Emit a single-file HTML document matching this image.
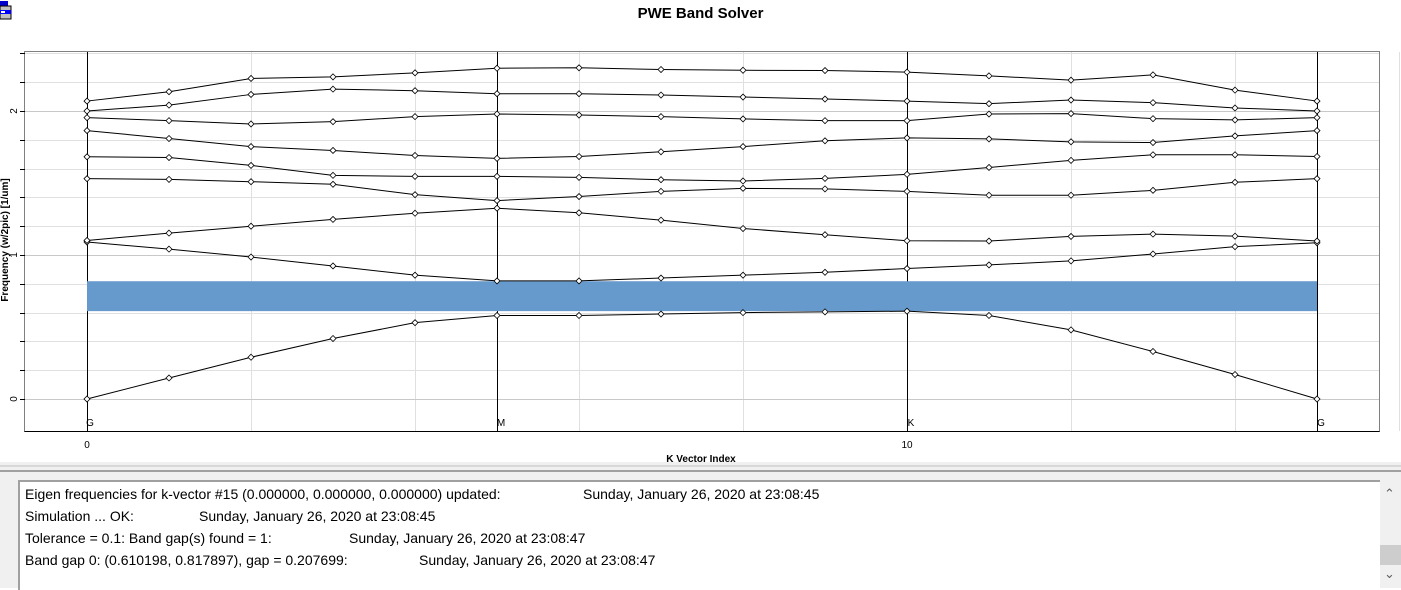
<!DOCTYPE html>
<html><head><meta charset="utf-8">
<style>
body{margin:0;width:1401px;height:588px;overflow:hidden;background:#fff;font-family:"Liberation Sans",sans-serif;position:relative}
#title{position:absolute;left:0;width:1401px;top:5px;text-align:center;font-weight:bold;font-size:15px}
#chart{position:absolute;left:0;top:0}
#log{position:absolute;left:0;top:462px;width:1401px;height:126px;background:#f0f0f0}
#box{position:absolute;left:18px;top:18px;width:1360px;height:108px;background:#fff;border-top:2px solid #a0a0a0;border-left:2px solid #a0a0a0}
.ln{position:absolute;left:5px;font-size:14px;color:#000;white-space:pre}
.ts{position:absolute;font-size:14px;white-space:pre}
#sb{position:absolute;right:0;top:18px;width:21px;height:108px;background:#f0f0f0}
</style></head><body>
<div id="title">PWE Band Solver</div>
<svg id="icon" style="position:absolute;left:0;top:0" width="14" height="22">
<rect x="0" y="1" width="8" height="5" fill="#0000cc"/><rect x="0" y="6" width="11" height="13" fill="#c0c0c0" stroke="#000"/><rect x="0" y="10" width="11" height="4" fill="#0000ff"/><rect x="1" y="11" width="4" height="2" fill="#fff"/>
</svg>
<svg id="chart" width="1401" height="462"></svg>
<div id="log">
<div style="position:absolute;left:0;top:3px;width:1401px;height:2px;background:#d8d8d8"></div>
<div style="position:absolute;left:0;top:8px;width:1401px;height:2px;background:#a0a0a0"></div>
<div id="box">
<div class="ln" style="top:4px">Eigen frequencies for k-vector #15 (0.000000, 0.000000, 0.000000) updated:</div>
<div class="ts" style="left:563px;top:4px">Sunday, January 26, 2020 at 23:08:45</div>
<div class="ln" style="top:26px">Simulation ... OK:</div>
<div class="ts" style="left:179px;top:26px">Sunday, January 26, 2020 at 23:08:45</div>
<div class="ln" style="top:48px">Tolerance = 0.1: Band gap(s) found = 1:</div>
<div class="ts" style="left:329px;top:48px">Sunday, January 26, 2020 at 23:08:47</div>
<div class="ln" style="top:70px">Band gap 0: (0.610198, 0.817897), gap = 0.207699:</div>
<div class="ts" style="left:399px;top:70px">Sunday, January 26, 2020 at 23:08:47</div>
</div>
<div id="sb">
<div style="position:absolute;left:4px;top:6px;font-size:13px;color:#606060">&#8963;</div>
<div style="position:absolute;left:0;top:65px;width:21px;height:20px;background:#cdcdcd"></div>
<div style="position:absolute;left:4px;top:86px;font-size:13px;color:#606060">&#8964;</div>
</div>
</div>
<script>
const kIndex=[0,1,2,3,4,5,6,7,8,9,10,11,12,13,14,15];
const band1=[0,0.146,0.29,0.42,0.53,0.58,0.58,0.59,0.60,0.605,0.61,0.58,0.48,0.33,0.17,0];
const band2=[1.09,1.041,0.986,0.924,0.86,0.82,0.82,0.84,0.86,0.88,0.906,0.931,0.959,1.007,1.058,1.085];
const band3=[1.101,1.152,1.200,1.247,1.290,1.325,1.293,1.242,1.184,1.141,1.099,1.097,1.129,1.145,1.131,1.097];
const band4=[1.530,1.525,1.509,1.491,1.419,1.378,1.406,1.442,1.463,1.459,1.442,1.415,1.415,1.449,1.505,1.530];
const band5=[1.682,1.677,1.622,1.553,1.546,1.546,1.539,1.523,1.514,1.532,1.560,1.608,1.657,1.696,1.696,1.684];
const band6=[1.864,1.809,1.753,1.726,1.691,1.671,1.684,1.717,1.753,1.793,1.813,1.806,1.786,1.781,1.827,1.864];
const band7=[1.954,1.933,1.910,1.926,1.961,1.979,1.972,1.961,1.945,1.933,1.933,1.979,1.982,1.947,1.938,1.954];
const band8=[2.0,2.041,2.115,2.152,2.141,2.120,2.120,2.111,2.097,2.083,2.069,2.051,2.076,2.058,2.021,2.0];
const band9=[2.069,2.134,2.226,2.237,2.265,2.297,2.300,2.288,2.283,2.281,2.270,2.244,2.214,2.251,2.145,2.069];
const bands=[band1,band2,band3,band4,band5,band6,band7,band8,band9];
const gapLow=0.610198, gapHigh=0.817897;
const symPoints=["G","M","K","G"];
const symIndex=[0,5,10,15];
const xTicks=[0,10];
const yTicks=[0,1,2];

const X=i=>87+i*82, Y=f=>399-f*144;
const svg=document.getElementById('chart');
const NS='http://www.w3.org/2000/svg';
function mk(t,a,p){const e=document.createElementNS(NS,t);for(const k in a)e.setAttribute(k,a[k]);(p||svg).appendChild(e);return e;}
// frame
let fr=mk('rect',{x:24.5,y:51.5,width:1355,height:380,fill:'none',stroke:'#000','stroke-dasharray':'1,1'});


// grid
for(let i=0;i<=16;i+=2){let g=mk('line',{x1:X(i)+.5,x2:X(i)+.5,y1:52,y2:431,stroke:'#e0e0e0'});

}
for(let f=0;f<=2.4;f+=0.2){let g=mk('line',{x1:25,x2:1379,y1:Math.round(Y(f))+.5,y2:Math.round(Y(f))+.5,stroke:Math.abs(f-Math.round(f))<1e-6?'#c8c8c8':'#e0e0e0'});


mk('line',{x1:20,x2:25,y1:Math.round(Y(f))+.5,y2:Math.round(Y(f))+.5,stroke:'#000'});}
mk('line',{x1:24.5,x2:1379.5,y1:431.5,y2:431.5,stroke:'#000'});
// symmetry lines
symIndex.forEach((k,j)=>{let l=mk('line',{x1:X(k)+.5,x2:X(k)+.5,y1:52,y2:431,stroke:'#000'});


let t=mk('text',{x:X(k)+(j==0?3:4),y:426,'font-size':10,'text-anchor':'middle','font-family':'Liberation Sans, sans-serif'});t.textContent=symPoints[j];

});
// gap
let gr=mk('rect',{x:X(0),y:Y(gapHigh),width:X(15)-X(0),height:Y(gapLow)-Y(gapHigh),fill:'#6699cc'});


// bands
bands.forEach((b,bi)=>{
 let pl=mk('polyline',{points:b.map((v,i)=>X(kIndex[i])+','+Y(v)).join(' '),fill:'none',stroke:'#000','stroke-width':1});
 
 
 b.forEach((v,i)=>{const cx=X(kIndex[i]),cy=Y(v);
  let m=mk('polygon',{points:`${cx},${cy-3} ${cx+3},${cy} ${cx},${cy+3} ${cx-3},${cy}`,fill:'#fff',stroke:'#000','stroke-width':0.8});
  
  });
});
// axis labels
xTicks.forEach(v=>{let t=mk('text',{x:X(v),y:448,'font-size':10,'text-anchor':'middle','font-family':'Liberation Sans, sans-serif'});t.textContent=v;

});
yTicks.forEach(v=>{let t=mk('text',{x:0,y:0,'font-size':10,'text-anchor':'middle','font-family':'Liberation Sans, sans-serif',transform:`translate(17,${Y(v)}) rotate(-90)`});t.textContent=v;

});
let xt=mk('text',{x:701,y:462,'font-size':10,'font-weight':'bold','text-anchor':'middle','font-family':'Liberation Sans, sans-serif'});xt.textContent='K Vector Index';


let yt=mk('text',{x:0,y:0,'font-size':10,'font-weight':'bold','text-anchor':'middle','font-family':'Liberation Sans, sans-serif',transform:'translate(8,240) rotate(-90)'});yt.textContent='Frequency (w/2pic) [1/um]';


</script>
</body></html>
